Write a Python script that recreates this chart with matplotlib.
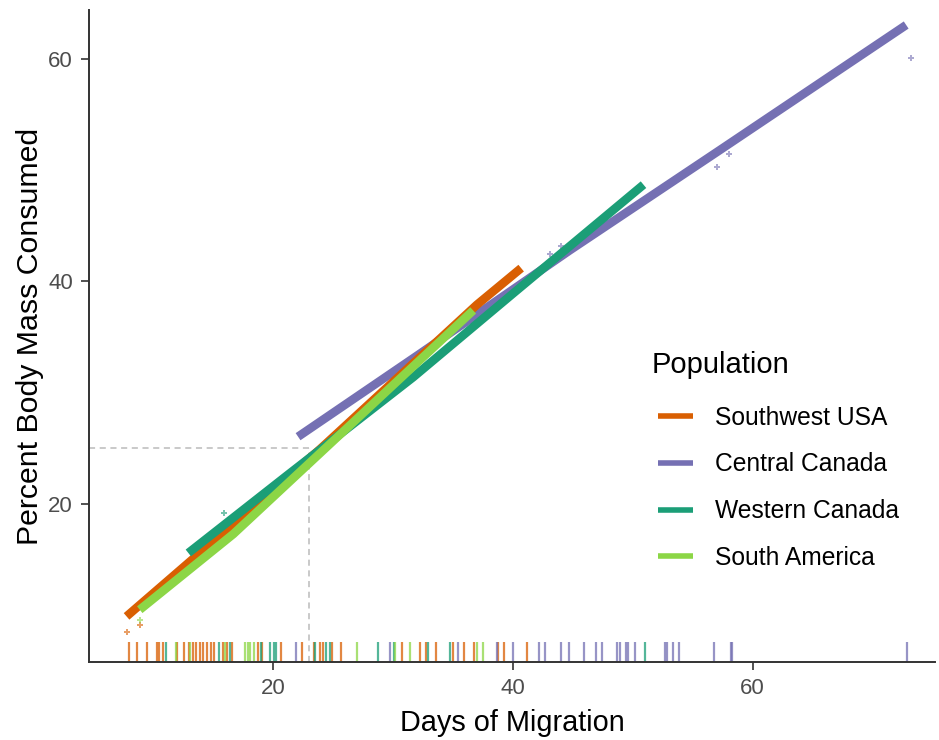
import matplotlib
matplotlib.use("Agg")
import matplotlib.pyplot as plt

plt.rcParams["font.family"] = ["Liberation Sans", "DejaVu Sans"]

populations = ["Southwest USA", "Central Canada", "Western Canada", "South America"]
colors = ["#D95F02", "#7570B3", "#1B9E77", "#8CD646"]

# cumulative mass consumed curves (days, percent)
sw_days = [7.8, 23.9, 37.0, 40.7]
sw_mass = [9.9, 24.9, 37.9, 41.2]
cc_days = [22.1, 32.25, 44.75, 57.25, 72.8]
cc_mass = [26.05, 33.5, 42.8, 51.8, 63.05]
wc_days = [12.95, 21.1, 31.7, 40.0, 50.9]
wc_mass = [15.6, 22.5, 31.4, 38.9, 48.7]
sa_days = [8.9, 16.7, 36.7]
sa_mass = [10.5, 17.3, 37.4]

# scattered outlying points
out_days = [[7.8, 8.9], [73.2, 57.05, 58.0, 43.1, 44.05], [15.9], [8.9]]
out_mass = [[8.5, 9.1], [60.1, 50.3, 51.5, 42.5, 43.2], [19.2], [9.6]]

# rug: individual migration durations
sw_rug = [8.0, 8.7, 9.5, 10.3, 10.5, 10.8, 12.0, 12.6, 13.0, 13.3, 13.6, 13.9,
          14.2, 14.5, 14.8, 15.1, 15.8, 16.2, 16.6, 18.8, 19.1, 20.7, 22.4, 23.4,
          23.9, 24.2, 24.9, 25.7, 30.8, 32.25, 32.8, 33.6, 35.0, 35.9, 36.8,
          38.8, 39.3, 41.2]
cc_rug = [21.9, 29.75, 35.4, 38.7, 40.0, 42.2, 42.7, 44.05, 44.7, 45.9, 46.9,
          47.4, 48.7, 48.9, 49.4, 49.6, 50.2, 52.7, 52.9, 53.4, 53.9, 56.8, 58.2,
          58.3, 72.9]
wc_rug = [11.05, 15.5, 16.4, 19.0, 19.8, 20.1, 20.3, 23.5, 24.4, 24.8, 28.8,
          30.1, 32.9, 34.8, 51.0]
sa_rug = [11.9, 13.1, 16.0, 17.7, 17.9, 18.1, 18.4, 27.0, 30.2, 31.4, 37.0, 37.5]

ref_day, ref_mass = 23, 25

curves = [(sw_days, sw_mass), (cc_days, cc_mass), (wc_days, wc_mass), (sa_days, sa_mass)]
rugs = [sw_rug, cc_rug, wc_rug, sa_rug]

fig = plt.figure(figsize=(9.39, 7.40), dpi=100)
ax = fig.add_axes([0.0948, 0.1054, 0.9009, 0.8811])

x_lo, x_hi = 4.67, 75.2
y_lo, y_hi = 5.8, 64.4

ax.plot([x_lo, ref_day], [ref_mass, ref_mass], ls=(0, (4, 3)), color="#BBBBBB", lw=1.1, zorder=1)
ax.plot([ref_day, ref_day], [y_lo, ref_mass], ls=(0, (4, 3)), color="#BBBBBB", lw=1.1, zorder=1)

# stacking as in the reference: purple, orange, green, lime on top
order = [1, 0, 2, 3]
for i in order:
    d, m = curves[i]
    z = 3 + order.index(i)
    ax.plot(d, m, color=colors[i], lw=6.2, solid_capstyle="butt",
            solid_joinstyle="round", label=populations[i], zorder=z)
    ax.scatter(out_days[i], out_mass[i], marker="P", s=16, color=colors[i],
               alpha=0.6, linewidths=0, zorder=z)

for col, r in zip(colors, rugs):
    ax.vlines(r, 0, 0.03, transform=ax.get_xaxis_transform(), color=col,
              alpha=0.75, lw=1.6, zorder=2)

ax.set_xlim(x_lo, x_hi)
ax.set_ylim(y_lo, y_hi)
ax.set_xticks([20, 40, 60])
ax.set_yticks([20, 40, 60])

for side in ["top", "right"]:
    ax.spines[side].set_visible(False)
for side in ["left", "bottom"]:
    ax.spines[side].set_color("#333333")
    ax.spines[side].set_linewidth(1.4)
ax.tick_params(axis="both", colors="#333333", labelcolor="#4D4D4D",
               labelsize=16, length=5.5, width=1.2, pad=6)

ax.set_xlabel("Days of Migration", fontsize=20.8, color="black", labelpad=7)
ax.set_ylabel("Percent Body Mass Consumed", fontsize=21.8, color="black", labelpad=3)

handles, labels = ax.get_legend_handles_labels()
by_label = dict(zip(labels, handles))
leg = ax.legend([by_label[p] for p in populations], populations,
                loc="upper left", bbox_to_anchor=(0.6726, 0.3934),
                frameon=False, fontsize=17.7, borderpad=0, borderaxespad=0,
                handlelength=1.42, handletextpad=0.9, labelspacing=0.93)
for h in leg.get_lines():
    h.set_linewidth(4)
fig.text(652 / 939, 1 - 365 / 740, "Population", fontsize=21, ha="left", va="center")

fig.savefig("out.png", dpi=100)
